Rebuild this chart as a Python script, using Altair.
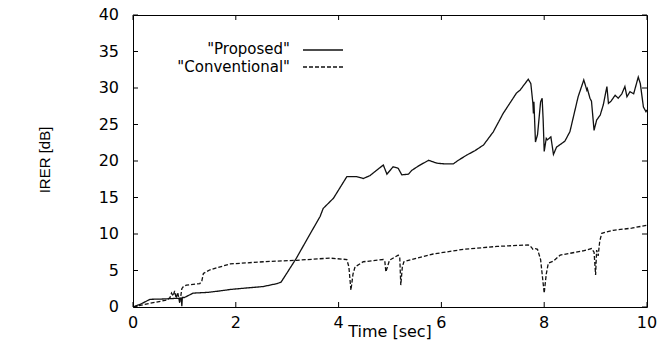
import altair as alt
import pandas as pd

# ---- data ----
t_prop = [0, 0.15, 0.33, 0.6, 0.9, 0.94, 0.95, 0.96, 1.0, 1.17,
          1.45, 1.69, 1.89, 2.2, 2.53, 2.8, 2.88, 2.99, 3.18, 3.38,
          3.64, 3.70, 3.90, 4.16, 4.35, 4.48, 4.61, 4.87, 4.94, 5.06,
          5.16, 5.23, 5.36, 5.42, 5.55, 5.75, 5.91, 6.07, 6.23, 6.33,
          6.49, 6.65, 6.82, 7.01, 7.20, 7.46, 7.53, 7.69, 7.74, 7.78,
          7.79, 7.80, 7.83, 7.87, 7.93, 7.96, 7.98, 8.00, 8.04, 8.06,
          8.13, 8.18, 8.24, 8.34, 8.40, 8.50, 8.57, 8.66, 8.77, 8.83,
          8.84, 8.89, 8.92, 8.97, 9.02, 9.09, 9.15, 9.22, 9.25, 9.30,
          9.38, 9.44, 9.51, 9.57, 9.61, 9.67, 9.74, 9.83, 9.87, 9.93,
          9.98, 10.0]
v_prop = [0, 0.4, 1.05, 1.1, 1.2, 1.2, 0.1, 1.3, 1.3, 1.9,
          2.0, 2.2, 2.4, 2.6, 2.8, 3.2, 3.4, 4.6, 6.7, 9.2,
          12.4, 13.5, 14.9, 17.85, 17.85, 17.6, 18.0, 19.45, 18.2, 19.2,
          19.0, 18.1, 18.2, 18.7, 19.3, 20.1, 19.7, 19.6, 19.6, 20.1,
          20.8, 21.4, 22.2, 24.0, 26.5, 29.3, 29.7, 31.2, 30.6, 27.9,
          26.5, 28.1, 22.6, 23.6, 28.1, 28.6, 25.6, 21.3, 23.1, 22.9,
          23.3, 20.9, 21.9, 22.4, 22.7, 24.0, 26.1, 28.8, 31.1, 29.7,
          29.9, 28.6, 28.2, 24.2, 25.6, 26.3, 27.7, 30.2, 27.9, 28.2,
          29.0, 28.6, 29.2, 30.2, 28.8, 29.5, 29.2, 31.5, 30.6, 27.4,
          26.75, 27.0]

t_conv = [0, 0.33, 0.66, 0.72, 0.75, 0.78, 0.81, 0.84, 0.87, 0.91,
          0.95, 0.98, 1.04, 1.30, 1.34, 1.37, 1.50, 1.89, 2.54, 3.18,
          3.83, 4.16, 4.20, 4.24, 4.28, 4.32, 4.48, 4.87, 4.90, 4.92,
          4.99, 5.16, 5.19, 5.21, 5.24, 5.27, 5.52, 5.84, 6.43, 7.08,
          7.69, 7.75, 7.78, 7.83, 7.87, 7.93, 8.00, 8.04, 8.08, 8.18,
          8.31, 8.76, 8.92, 8.97, 9.00, 9.02, 9.05, 9.08, 9.12, 9.34,
          9.7, 10.0]
v_conv = [0, 0.5, 0.96, 1.3, 1.9, 1.5, 2.2, 1.2, 2.0, 0.5,
          2.5, 2.8, 3.0, 3.2, 3.6, 4.6, 5.1, 5.9, 6.2, 6.4,
          6.7, 6.5, 5.5, 2.3, 4.5, 5.5, 6.2, 6.5, 6.2, 4.8,
          6.4, 7.1, 6.8, 3.0, 5.5, 6.2, 6.7, 7.26, 7.9, 8.3,
          8.5, 8.2, 7.9, 8.0, 7.9, 6.5, 1.9, 4.5, 6.0, 6.3,
          7.1, 7.7, 8.0, 7.5, 4.4, 7.8, 7.0, 9.0, 10.1, 10.5,
          10.8, 11.2]

x_ticks = [0, 2, 4, 6, 8, 10]
y_ticks = [0, 5, 10, 15, 20, 25, 30, 35, 40]
x_title = "Time [sec]"
y_title = "IRER [dB]"
series_names = ["Proposed", "Conventional"]
legend_labels = ['"Proposed"', '"Conventional"']

W, H = 514, 292
TICK = 5
INK = "#111111"
FONT = "DejaVu Sans"
FS = 16
LFS = 15

df = pd.DataFrame({
    "t": t_prop + t_conv,
    "v": v_prop + v_conv,
    "series": [series_names[0]] * len(t_prop) + [series_names[1]] * len(t_conv),
})

xscale = alt.Scale(domain=[0, 10], nice=False, zero=False)
yscale = alt.Scale(domain=[0, 40], nice=False, zero=False)

lines = alt.Chart(df).mark_line(color=INK, strokeWidth=1.3, clip=True).encode(
    x=alt.X("t:Q", scale=xscale, axis=None),
    y=alt.Y("v:Q", scale=yscale, axis=None),
    strokeDash=alt.StrokeDash("series:N",
                              scale=alt.Scale(domain=series_names, range=[[1, 0], [4, 2]]),
                              legend=None),
    detail="series:N",
)

xt = pd.DataFrame({"t": x_ticks})
yt = pd.DataFrame({"v": y_ticks})

# inward tick marks on all four sides of the frame
bottom_ticks = alt.Chart(xt).mark_rule(color="black", strokeWidth=1).encode(
    x=alt.X("t:Q", scale=xscale, axis=None), y=alt.value(H), y2=alt.value(H - TICK))
top_ticks = alt.Chart(xt).mark_rule(color="black", strokeWidth=1).encode(
    x=alt.X("t:Q", scale=xscale, axis=None), y=alt.value(0), y2=alt.value(TICK))
left_ticks = alt.Chart(yt).mark_rule(color="black", strokeWidth=1).encode(
    y=alt.Y("v:Q", scale=yscale, axis=None), x=alt.value(0), x2=alt.value(TICK))
right_ticks = alt.Chart(yt).mark_rule(color="black", strokeWidth=1).encode(
    y=alt.Y("v:Q", scale=yscale, axis=None), x=alt.value(W - TICK), x2=alt.value(W))

# tick labels, drawn through the same scales
x_labels = alt.Chart(xt).mark_text(baseline="top", align="center", font=FONT, fontSize=FS,
                                   color="black").encode(
    x=alt.X("t:Q", scale=xscale, axis=None), y=alt.value(H + 8), text="t:Q")
y_labels = alt.Chart(yt).mark_text(baseline="middle", align="right", font=FONT, fontSize=FS,
                                   color="black").encode(
    y=alt.Y("v:Q", scale=yscale, axis=None), x=alt.value(-14), text="v:Q")

# axis titles
xt_df = pd.DataFrame({"label": [x_title]})
yt_df = pd.DataFrame({"label": [y_title]})
x_title_mark = alt.Chart(xt_df).mark_text(baseline="alphabetic", align="center", font=FONT,
                                          fontSize=FS, color="black").encode(
    text="label:N", x=alt.value(W / 2), y=alt.value(H + 30))
y_title_mark = alt.Chart(yt_df).mark_text(baseline="middle", align="center", angle=270,
                                          font="Liberation Sans", fontSize=15,
                                          color="black").encode(
    text="label:N", x=alt.value(-88), y=alt.value(145))

# legend (label left of sample, as in the reference)
leg1 = pd.DataFrame({"label": [legend_labels[0]]})
leg2 = pd.DataFrame({"label": [legend_labels[1]]})
leg_text1 = alt.Chart(leg1).mark_text(align="right", baseline="middle", font=FONT,
                                      fontSize=LFS, color="black").encode(
    text="label:N", x=alt.value(157), y=alt.value(34))
leg_text2 = alt.Chart(leg2).mark_text(align="right", baseline="middle", font=FONT,
                                      fontSize=LFS, color="black").encode(
    text="label:N", x=alt.value(157), y=alt.value(52))
leg_line1 = alt.Chart(leg1).mark_rule(color=INK, strokeWidth=1.3).encode(
    x=alt.value(170), x2=alt.value(210), y=alt.value(35))
leg_line2 = alt.Chart(leg2).mark_rule(color=INK, strokeWidth=1.3, strokeDash=[4, 2]).encode(
    x=alt.value(170), x2=alt.value(210), y=alt.value(52))

chart = alt.layer(
    lines, bottom_ticks, top_ticks, left_ticks, right_ticks,
    x_labels, y_labels, x_title_mark, y_title_mark,
    leg_text1, leg_text2, leg_line1, leg_line2,
).properties(
    width=W, height=H,
    autosize=alt.AutoSizeParams(type="none"),
    padding={"left": 133, "top": 15, "right": 13, "bottom": 47},
    background="white",
).configure_view(
    stroke="black", strokeWidth=1
)

chart.save("out.html", embed_options={"renderer": "svg", "actions": False})
